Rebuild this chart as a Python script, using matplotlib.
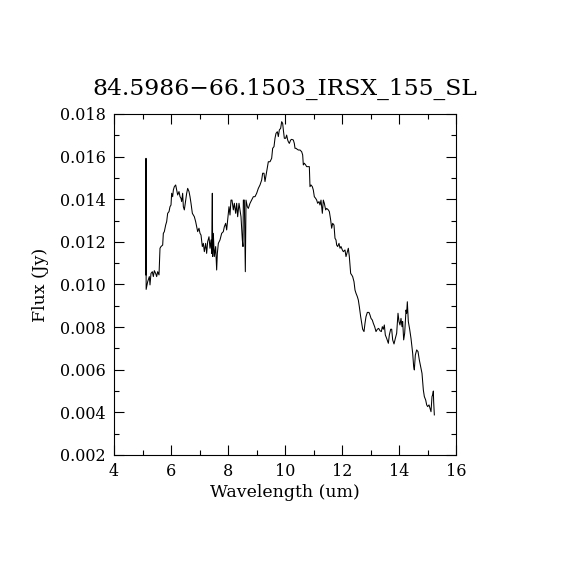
import numpy as np
import matplotlib
matplotlib.use("Agg")
import matplotlib.pyplot as plt
from matplotlib.ticker import MultipleLocator, FormatStrFormatter

# Spectrum
wavelength = [
    5.120, 5.123, 5.128, 5.181, 5.240, 5.263, 5.298, 5.345, 5.380, 5.415,
    5.462, 5.497, 5.532, 5.579, 5.614, 5.649, 5.708, 5.731, 5.766, 5.813,
    5.848, 5.883, 5.930, 5.965, 6.000, 6.023, 6.058, 6.082, 6.117, 6.164,
    6.199, 6.234, 6.281, 6.316, 6.351, 6.374, 6.409, 6.433, 6.468, 6.515,
    6.550, 6.585, 6.632, 6.667, 6.702, 6.749, 6.784, 6.819, 6.865, 6.901,
    6.936, 6.982, 7.018, 7.053, 7.099, 7.135, 7.170, 7.216, 7.251, 7.287,
    7.333, 7.368, 7.404, 7.427, 7.450, 7.462, 7.485, 7.520, 7.567, 7.602,
    7.626, 7.661, 7.719, 7.778, 7.836, 7.871, 7.918, 7.953, 7.988, 8.035,
    8.070, 8.105, 8.140, 8.187, 8.222, 8.269, 8.304, 8.339, 8.386, 8.421,
    8.456, 8.503, 8.526, 8.538, 8.573, 8.608, 8.632, 8.678, 8.713, 8.772,
    8.830, 8.889, 8.947, 9.006, 9.064, 9.123, 9.181, 9.216, 9.263, 9.298,
    9.357, 9.415, 9.474, 9.532, 9.567, 9.614, 9.649, 9.684, 9.731, 9.766,
    9.801, 9.848, 9.883, 9.918, 9.942, 9.977,
    10.023, 10.058, 10.094, 10.117, 10.152, 10.199, 10.234, 10.292, 10.327, 10.351,
    10.386, 10.433, 10.468, 10.526, 10.585, 10.620, 10.643, 10.678, 10.725, 10.760,
    10.819, 10.854, 10.877, 10.912, 10.959, 10.994, 11.029, 11.076, 11.111, 11.146,
    11.193, 11.228, 11.263, 11.287, 11.310, 11.345, 11.380, 11.427, 11.462, 11.520,
    11.556, 11.602, 11.637, 11.673, 11.719, 11.754, 11.789, 11.813, 11.848, 11.895,
    11.930, 11.965, 12.012, 12.047, 12.105, 12.140, 12.187, 12.222, 12.257, 12.304,
    12.339, 12.374, 12.421, 12.456, 12.491, 12.538, 12.573,
    12.608, 12.655, 12.690, 12.725, 12.772, 12.807, 12.842, 12.889, 12.947, 12.982,
    13.018, 13.064, 13.099, 13.146, 13.193, 13.240, 13.287, 13.333, 13.380, 13.415,
    13.450, 13.485, 13.520, 13.567, 13.626, 13.661, 13.708, 13.743, 13.778, 13.825,
    13.871, 13.918, 13.942, 13.965, 14.000, 14.035, 14.070, 14.105, 14.129, 14.164,
    14.199, 14.246, 14.269, 14.292, 14.327, 14.374, 14.421, 14.480, 14.515, 14.538,
    14.573, 14.620, 14.667, 14.713, 14.760, 14.807, 14.854, 14.889, 14.936, 14.971,
    15.006, 15.053, 15.088, 15.123, 15.158, 15.181, 15.205, 15.216, 15.240,
]
flux = [
    0.01045, 0.01592, 0.00977, 0.01013, 0.01037, 0.00998, 0.01052, 0.01060, 0.01037, 0.01065,
    0.01052, 0.01037, 0.01060, 0.01045, 0.01170, 0.01178, 0.01185, 0.01240, 0.01248, 0.01279,
    0.01295, 0.01334, 0.01342, 0.01365, 0.01373, 0.01428, 0.01412, 0.01443, 0.01459, 0.01467,
    0.01443, 0.01420, 0.01436, 0.01412, 0.01404, 0.01389, 0.01428, 0.01365, 0.01350, 0.01396,
    0.01428, 0.01451, 0.01436, 0.01412, 0.01381, 0.01334, 0.01326, 0.01318, 0.01295, 0.01271,
    0.01248, 0.01264, 0.01240, 0.01232, 0.01178, 0.01193, 0.01154, 0.01193, 0.01146, 0.01201,
    0.01224, 0.01170, 0.01209, 0.01146, 0.01428, 0.01131, 0.01240, 0.01131, 0.01178, 0.01068,
    0.01146, 0.01193, 0.01209, 0.01240, 0.01248, 0.01271, 0.01287, 0.01256, 0.01303, 0.01365,
    0.01326, 0.01396, 0.01396, 0.01350, 0.01381, 0.01334, 0.01381, 0.01318, 0.01381, 0.01350,
    0.01318, 0.01209, 0.01178, 0.01396, 0.01396, 0.01060, 0.01396, 0.01365, 0.01357, 0.01381,
    0.01396, 0.01412, 0.01412, 0.01428, 0.01451, 0.01467, 0.01490, 0.01522, 0.01522, 0.01483,
    0.01529, 0.01576, 0.01576, 0.01592, 0.01639, 0.01647, 0.01686, 0.01709, 0.01717, 0.01694,
    0.01725, 0.01733, 0.01764, 0.01756, 0.01725, 0.01686,
    0.01686, 0.01701, 0.01678, 0.01670, 0.01662, 0.01678, 0.01681, 0.01678, 0.01662, 0.01639,
    0.01639, 0.01634, 0.01631, 0.01631, 0.01623, 0.01608, 0.01561, 0.01569, 0.01561, 0.01553,
    0.01553, 0.01553, 0.01459, 0.01467, 0.01459, 0.01443, 0.01412, 0.01404, 0.01396, 0.01381,
    0.01389, 0.01373, 0.01396, 0.01365, 0.01334, 0.01396, 0.01381, 0.01350, 0.01357, 0.01350,
    0.01342, 0.01303, 0.01264, 0.01287, 0.01279, 0.01217, 0.01209, 0.01185, 0.01178, 0.01193,
    0.01170, 0.01178, 0.01162, 0.01154, 0.01162, 0.01131, 0.01154, 0.01170, 0.01131, 0.01052,
    0.01045, 0.01037, 0.01013, 0.00974, 0.00959, 0.00943, 0.00927,
    0.00896, 0.00849, 0.00818, 0.00790, 0.00779, 0.00818, 0.00849, 0.00869, 0.00869, 0.00857,
    0.00841, 0.00833, 0.00818, 0.00802, 0.00779, 0.00790, 0.00794, 0.00783, 0.00779, 0.00802,
    0.00790, 0.00810, 0.00763, 0.00747, 0.00724, 0.00763, 0.00790, 0.00790, 0.00740, 0.00721,
    0.00747, 0.00771, 0.00818, 0.00865, 0.00826, 0.00810, 0.00841, 0.00802, 0.00826, 0.00740,
    0.00771, 0.00880, 0.00865, 0.00919, 0.00826, 0.00790, 0.00747, 0.00677, 0.00614, 0.00599,
    0.00669, 0.00693, 0.00685, 0.00646, 0.00614, 0.00583, 0.00505, 0.00474, 0.00458, 0.00435,
    0.00427, 0.00435, 0.00419, 0.00403, 0.00474, 0.00482, 0.00500, 0.00450, 0.00388,
]

title = "84.5986\u221266.1503_IRSX_155_SL"

plt.rcParams['font.family'] = ['DejaVu Serif']

fig = plt.figure(figsize=(5.7, 5.7), dpi=100)
ax = fig.add_axes([0.2, 0.2018, 0.6, 0.5982])
ax.plot(wavelength, flux, color='black', lw=0.75)

ax.set_xlim(4, 16)
ax.set_ylim(0.002, 0.018)
ax.xaxis.set_major_locator(MultipleLocator(2))
ax.xaxis.set_minor_locator(MultipleLocator(1))
ax.yaxis.set_major_locator(MultipleLocator(0.002))
ax.yaxis.set_minor_locator(MultipleLocator(0.001))
ax.yaxis.set_major_formatter(FormatStrFormatter('%.3f'))
ax.tick_params(which='both', direction='in', top=True, right=True,
               labelsize=11.5, width=0.8, pad=6)
ax.tick_params(which='major', length=7)
ax.tick_params(which='minor', length=3.5)
for sp in ax.spines.values():
    sp.set_linewidth(0.8)

ax.set_xlabel("Wavelength (um)", fontsize=12.5, labelpad=3)
ax.set_ylabel("Flux (Jy)", fontsize=12.5, labelpad=8)
ax.set_title(title, fontsize=16.8, pad=14)

fig.savefig("out.png", dpi=100, facecolor='white')
